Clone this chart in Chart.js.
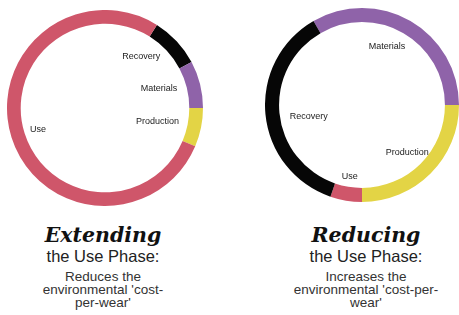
<!DOCTYPE html>
<html>
<head>
<meta charset="utf-8">
<script src="https://cdn.jsdelivr.net/npm/chart.js@4"></script>
<style>
  body { margin: 0; background: #fff; width: 459px; height: 315px; position: relative; overflow: hidden; font-family: "Liberation Sans", Arial, sans-serif; }
  .ring { position: absolute; }
  .caption { position: absolute; top: 223px; width: 200px; text-align: center; color: #222; white-space: nowrap; }
  .caption .big { font-family: "DejaVu Serif", serif; font-weight: bold; font-style: italic; font-size: 20.5px; line-height: 24px; color: #111; }
  .caption .mid { font-size: 16.5px; line-height: 19px; }
  .caption .small { font-size: 13.5px; line-height: 12.8px; margin-top: 5px; color: #333; }
</style>
</head>
<body>
<div class="ring" style="left:7px; top:10px; width:196px; height:196px;"><canvas id="extending"></canvas></div>
<div class="ring" style="left:265px; top:8px; width:194px; height:194px;"><canvas id="reducing"></canvas></div>

<div class="caption" style="left:3px;">
  <div class="big">Extending</div>
  <div class="mid">the Use Phase:</div>
  <div class="small">Reduces the<br>environmental 'cost-<br>per-wear'</div>
</div>
<div class="caption" style="left:266px;">
  <div class="big">Reducing</div>
  <div class="mid">the Use Phase:</div>
  <div class="small">Increases the<br>environmental 'cost-per-<br>wear'</div>
</div>

<script>
// data, in degrees of the ring
const extendingLabels = ["Recovery", "Materials", "Production", "Use"];
const extendingValues = [30, 28, 23, 279];

const reducingLabels = ["Materials", "Production", "Use", "Recovery"];
const reducingValues = [120, 90, 19, 131];

const colours = {
    Recovery: "#060606",
    Materials: "#8f63a9",
    Production: "#e3d445",
    Use: "#cf566a"
};

// labels inside the ring, right half anchored at the end, left half at the start
const ringLabels = {
    id: "ringLabels",
    afterDatasetsDraw(chart, args, opts) {
        const ctx = chart.ctx;
        const meta = chart.getDatasetMeta(0);
        const nudge = opts.nudge || [];
        ctx.save();
        ctx.font = "9px 'Liberation Sans', Arial, sans-serif";
        ctx.fillStyle = "#222";
        ctx.textBaseline = "middle";
        meta.data.forEach((arc, i) => {
            const mid = (arc.startAngle + arc.endAngle) / 2;
            const r = arc.outerRadius * 0.77;
            const d = nudge[i] || [0, 0];
            const x = arc.x + Math.cos(mid) * r + d[0];
            const y = arc.y + Math.sin(mid) * r + d[1];
            ctx.textAlign = Math.cos(mid) >= 0 ? "right" : "left";
            ctx.fillText(chart.data.labels[i], x, y);
        });
        ctx.restore();
    }
};

function makeRing(el, labels, values, startAt, cut, nudge) {
    return new Chart(el, {
        type: "doughnut",
        data: {
            labels: labels,
            datasets: [
                {
                    data: values,
                    backgroundColor: labels.map((l) => colours[l]),
                    borderWidth: 0
                }
            ]
        },
        options: {
            responsive: true,
            maintainAspectRatio: false,
            animation: false,
            rotation: startAt,
            cutout: cut,
            layout: { padding: 0 },
            plugins: {
                legend: { display: false },
                tooltip: { enabled: false },
                ringLabels: { nudge: nudge }
            }
        },
        plugins: [ringLabels]
    });
}

makeRing(document.getElementById("extending"), extendingLabels, extendingValues, 32, "86%",
    [[0, 0], [-1, -1], [0, -2], [-3, -1]]);
makeRing(document.getElementById("reducing"), reducingLabels, reducingValues, -30, "85.5%",
    [[6, 6], [14, -5], [-8, -2], [2, 4]]);
</script>
</body>
</html>
